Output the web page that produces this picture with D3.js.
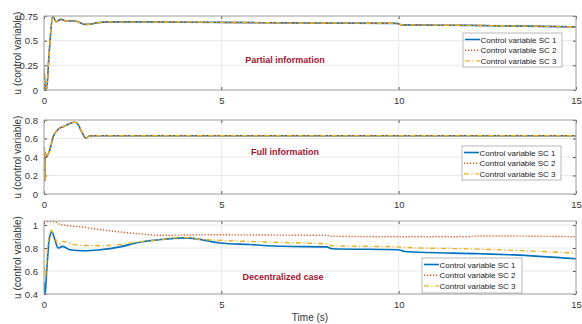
<!DOCTYPE html>
<html>
<head>
<meta charset="utf-8">
<script src="https://cdn.jsdelivr.net/npm/d3@7"></script>
<style>
  html, body { margin: 0; padding: 0; background: #fff; }
  svg { display: block; font-family: "Liberation Sans", Arial, sans-serif; }
</style>
</head>
<body>
<div id="chart"></div>
<script>
// ---- data ----
const xTicks = [0, 5, 10, 15];
const seriesNames = ['Control variable SC 1', 'Control variable SC 2', 'Control variable SC 3'];

// Panel 1: partial information (all three controllers overlap)
const partialTime = [0, 0.03, 0.07, 0.15, 0.25, 0.34, 0.47, 0.64, 0.87, 1.0, 1.15, 1.3, 1.48, 1.86, 2.5, 3, 5, 7, 9.95, 10.1, 12, 15];
const partialSC1 = [0.22, 0.05, 0.0, 0.4, 0.75, 0.69, 0.716, 0.70, 0.70, 0.685, 0.665, 0.668, 0.68, 0.69, 0.69, 0.69, 0.685, 0.68, 0.675, 0.66, 0.655, 0.64];
const partialSC2 = [0.22, 0.05, 0.0, 0.4, 0.75, 0.69, 0.716, 0.70, 0.70, 0.685, 0.665, 0.668, 0.68, 0.69, 0.69, 0.69, 0.685, 0.68, 0.675, 0.66, 0.655, 0.64];
const partialSC3 = [0.22, 0.05, 0.0, 0.4, 0.75, 0.69, 0.716, 0.70, 0.70, 0.685, 0.665, 0.668, 0.68, 0.69, 0.69, 0.69, 0.685, 0.68, 0.675, 0.66, 0.655, 0.64];
const partialYTicks = [0, 0.25, 0.5, 0.75];

// Panel 2: full information
const fullTime = [0, 0.01, 0.02, 0.03, 0.06, 0.15, 0.26, 0.40, 0.59, 0.78, 0.87, 0.97, 1.06, 1.18, 1.28, 1.37, 15];
const fullSC1 = [0.15, 0.5, 0.14, 0.45, 0.40, 0.46, 0.62, 0.70, 0.735, 0.77, 0.775, 0.746, 0.674, 0.605, 0.627, 0.63, 0.63];
const fullSC2 = [0.15, 0.5, 0.14, 0.45, 0.40, 0.46, 0.62, 0.70, 0.735, 0.77, 0.775, 0.746, 0.674, 0.605, 0.627, 0.63, 0.63];
const fullSC3 = [0.15, 0.5, 0.14, 0.45, 0.40, 0.46, 0.62, 0.70, 0.735, 0.77, 0.775, 0.746, 0.674, 0.605, 0.627, 0.63, 0.63];
const fullYTicks = [0, 0.2, 0.4, 0.6, 0.8];

// Panel 3: decentralized case
const decTimeSC1 = [0, 0.03, 0.08, 0.15, 0.22, 0.30, 0.40, 0.53, 0.73, 1.11, 1.58, 2.14, 2.7, 3.2, 3.92, 4.4, 4.96, 5.8, 6.74, 7.97, 8.11, 9.98, 10.17, 12.3, 13.23, 15];
const decSC1 = [0.505, 0.39, 0.62, 0.88, 0.94, 0.88, 0.80, 0.814, 0.785, 0.776, 0.785, 0.81, 0.85, 0.87, 0.888, 0.875, 0.844, 0.83, 0.815, 0.81, 0.794, 0.785, 0.77, 0.75, 0.74, 0.706];
const decTimeSC2 = [0, 0.3, 0.45, 1.01, 1.58, 2.14, 2.7, 3.2, 4.87, 6.74, 8.0, 8.1, 9.98, 12.0, 12.2, 13.2, 15];
const decSC2 = [1.03, 1.03, 1.005, 0.985, 0.96, 0.94, 0.923, 0.911, 0.915, 0.912, 0.91, 0.902, 0.898, 0.898, 0.905, 0.904, 0.898];
const decTimeSC3 = [0, 0.04, 0.1, 0.2, 0.3, 0.4, 0.55, 0.7, 1.01, 1.58, 2.14, 2.7, 3.2, 3.92, 4.4, 4.96, 6.5, 7.97, 8.11, 9.98, 10.17, 12.3, 15];
const decSC3 = [0.638, 0.55, 0.80, 0.955, 0.90, 0.83, 0.858, 0.844, 0.823, 0.82, 0.83, 0.855, 0.87, 0.893, 0.876, 0.867, 0.85, 0.835, 0.82, 0.81, 0.805, 0.79, 0.756];
const decYTicks = [0.4, 0.6, 0.8, 1];

// ---- styles ----
const colors = ['#0072BD', '#D95319', '#EDB120'];
const dashes = [null, '1.2,1.8', '5,2.5,1.2,2.5'];
const widths = [1.6, 1.4, 1.4];
const titleColor = '#A2142F';

const W = 582, H = 324;
const left = 44, right = 576;

const panels = [
  { top: 16, bottom: 90, yDomain: [0, 0.75], yTicks: partialYTicks, yFmt: d => d === 0 ? '0' : String(d),
    series: [[partialTime, partialSC1], [partialTime, partialSC2], [partialTime, partialSC3]],
    title: 'Partial information', titleX: 285, titleY: 63,
    legend: { x: 463, y: 33, w: 99, h: 34 } },
  { top: 120, bottom: 194, yDomain: [0, 0.8], yTicks: fullYTicks, yFmt: d => String(d),
    series: [[fullTime, fullSC1], [fullTime, fullSC2], [fullTime, fullSC3]],
    title: 'Full information', titleX: 285, titleY: 155,
    legend: { x: 462, y: 146, w: 99, h: 34 } },
  { top: 221, bottom: 294, yDomain: [0.4, 1.035], yTicks: decYTicks, yFmt: d => String(d),
    series: [[decTimeSC1, decSC1], [decTimeSC2, decSC2], [decTimeSC3, decSC3]],
    title: 'Decentralized case', titleX: 283, titleY: 280,
    legend: { x: 422, y: 258, w: 100, h: 35 } }
];

const svg = d3.select('#chart').append('svg')
  .attr('width', W)
  .attr('height', H);

const x = d3.scaleLinear().domain([0, 15]).range([left, right]);

panels.forEach((p, i) => {
  const y = d3.scaleLinear().domain(p.yDomain).range([p.bottom, p.top]);
  const g = svg.append('g');

  // clip for data
  const clipId = 'clip' + i;
  svg.append('clipPath').attr('id', clipId)
    .append('rect')
    .attr('x', left).attr('y', p.top)
    .attr('width', right - left).attr('height', p.bottom - p.top);

  // grid
  g.selectAll('.gx').data(xTicks).enter().append('line')
    .attr('x1', d => x(d)).attr('x2', d => x(d))
    .attr('y1', p.top).attr('y2', p.bottom)
    .style('stroke', '#e8e8e8').style('stroke-width', 1);
  g.selectAll('.gy').data(p.yTicks).enter().append('line')
    .attr('x1', left).attr('x2', right)
    .attr('y1', d => y(d)).attr('y2', d => y(d))
    .style('stroke', '#e8e8e8').style('stroke-width', 1);

  // axes (ticks inside, all sides)
  const xb = g.append('g').attr('transform', `translate(0,${p.bottom})`)
    .call(d3.axisBottom(x).tickValues(xTicks).tickSizeInner(-3).tickSizeOuter(0).tickPadding(7));
  const xt = g.append('g').attr('transform', `translate(0,${p.top})`)
    .call(d3.axisTop(x).tickValues(xTicks).tickSizeInner(-3).tickSizeOuter(0).tickFormat(''));
  const yl = g.append('g').attr('transform', `translate(${left},0)`)
    .call(d3.axisLeft(y).tickValues(p.yTicks).tickSizeInner(-3).tickSizeOuter(0).tickPadding(6).tickFormat(p.yFmt));
  const yr = g.append('g').attr('transform', `translate(${right},0)`)
    .call(d3.axisRight(y).tickValues(p.yTicks).tickSizeInner(-3).tickSizeOuter(0).tickFormat(''));

  [xb, xt, yl, yr].forEach(a => {
    a.select('.domain').remove();
    a.selectAll('.tick line').style('stroke', '#555');
    a.selectAll('.tick text').style('fill', '#333').style('font-size', '9.5px')
      .style('font-family', '"Liberation Sans", Arial, sans-serif');
  });

  // data lines
  const lineGen = d3.line()
    .x(d => x(d[0]))
    .y(d => y(d[1]))
    .curve(d3.curveMonotoneX);

  p.series.forEach((s, k) => {
    const pts = s[0].map((t, j) => [t, s[1][j]]);
    g.append('path')
      .datum(pts)
      .attr('clip-path', `url(#${clipId})`)
      .attr('d', lineGen)
      .style('fill', 'none')
      .style('stroke', colors[k])
      .style('stroke-width', widths[k])
      .style('stroke-dasharray', dashes[k]);
  });

  // box
  g.append('rect')
    .attr('x', left).attr('y', p.top)
    .attr('width', right - left).attr('height', p.bottom - p.top)
    .style('fill', 'none').style('stroke', '#a6a6a6').style('stroke-width', 1);

  // panel annotation
  g.append('text')
    .attr('x', p.titleX).attr('y', p.titleY)
    .attr('text-anchor', 'middle')
    .style('font-size', '9px').style('font-weight', 'bold')
    .style('fill', titleColor)
    .text(p.title);

  // y label
  g.append('text')
    .attr('transform', `translate(21,${(p.top + p.bottom) / 2}) rotate(-90)`)
    .attr('text-anchor', 'middle')
    .style('font-size', '10px').style('fill', '#333')
    .text('u (control variable)');

  // legend
  const L = p.legend;
  const lg = g.append('g').attr('transform', `translate(${L.x},${L.y})`);
  lg.append('rect')
    .attr('width', L.w).attr('height', L.h)
    .style('fill', '#fff').style('stroke', '#a6a6a6').style('stroke-width', 0.8);
  seriesNames.forEach((name, k) => {
    const ry = 6.5 + k * 10.7;
    lg.append('line')
      .attr('x1', 2).attr('x2', 17).attr('y1', ry).attr('y2', ry)
      .style('stroke', colors[k]).style('stroke-width', widths[k])
      .style('stroke-dasharray', dashes[k]);
    lg.append('text')
      .attr('x', 17.5).attr('y', ry + 3)
      .style('font-size', '8px').style('fill', '#222')
      .text(name);
  });
});

// x label
svg.append('text')
  .attr('x', 310).attr('y', 321)
  .attr('text-anchor', 'middle')
  .style('font-size', '10px').style('fill', '#333')
  .text('Time (s)');
</script>
</body>
</html>
